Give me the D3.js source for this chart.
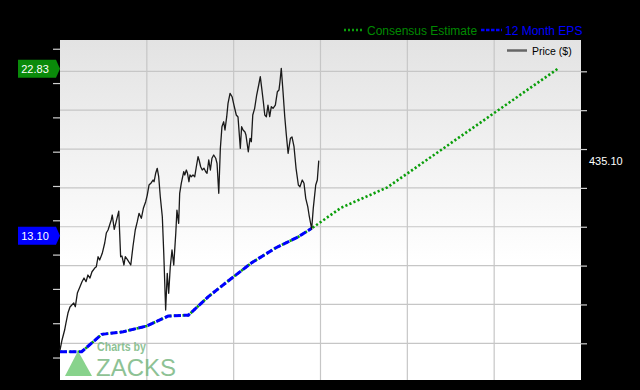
<!DOCTYPE html>
<html>
<head>
<meta charset="utf-8">
<script src="https://cdn.jsdelivr.net/npm/d3@7"></script>
<style>
  body { margin: 0; background: #000; }
  svg { display: block; font-family: "Liberation Sans", Arial, sans-serif; }
</style>
</head>
<body>
<script>
"use strict";

// x is months from the start of the chart, price in $
let priceSeries = [
  [0.0,191.4],[0.14,204.3],[0.32,217.1],[0.41,226.1],[0.55,239.0],[0.69,246.7],[0.95,251.9],[1.06,247.1],
  [1.20,264.7],[1.38,272.8],[1.52,279.3],[1.66,284.0],[1.80,279.3],[1.93,287.9],[2.07,284.0],[2.21,292.1],
  [2.40,296.9],[2.51,298.6],[2.63,311.4],[2.74,307.2],[2.92,315.8],[3.09,329.1],[3.20,341.9],[3.32,345.8],
  [3.43,352.2],[3.54,358.7],[3.61,365.1],[3.75,346.7],[4.06,370.2],[4.19,311.4],[4.28,312.3],[4.42,300.8],
  [4.51,311.4],[4.65,308.1],[4.89,300.8],[5.04,324.3],[5.20,345.8],[5.34,356.5],[5.46,367.3],[5.62,360.9],
  [5.76,373.7],[5.92,382.2],[6.03,390.8],[6.15,403.7],[6.31,406.7],[6.43,410.1],[6.50,407.9],[6.61,418.8],
  [6.72,425.2],[6.82,414.4],[6.93,388.6],[7.07,362.9],[7.17,315.8],[7.30,242.9],[7.41,290.1],[7.51,264.4],
  [7.62,298.6],[7.74,320.1],[7.86,300.8],[8.00,341.6],[8.08,371.5],[8.20,354.4],[8.27,393.0],[8.38,405.9],
  [8.55,420.8],[8.62,416.6],[8.73,423.0],[8.81,418.8],[8.91,407.9],[8.98,416.6],[9.07,414.4],[9.19,416.6],
  [9.31,414.4],[9.42,427.2],[9.54,440.1],[9.61,435.9],[9.72,427.2],[9.83,423.0],[9.95,425.2],[10.07,420.8],
  [10.16,418.8],[10.28,435.9],[10.39,423.0],[10.50,438.1],[10.62,442.3],[10.76,438.1],[10.85,431.6],[10.97,393.0],
  [11.08,450.9],[11.19,478.7],[11.31,485.1],[11.40,474.5],[11.52,491.6],[11.61,508.8],[11.75,521.7],[11.89,517.3],
  [12.02,506.6],[12.18,493.8],[12.30,491.2],[12.46,450.9],[12.55,478.7],[12.65,474.5],[12.78,472.0],[12.85,468.0],
  [13.01,446.5],[13.13,463.8],[13.22,459.4],[13.32,493.8],[13.45,502.4],[13.59,519.5],[13.73,532.4],[13.84,543.1],
  [13.94,528.1],[14.05,510.9],[14.15,493.8],[14.26,491.6],[14.37,506.6],[14.49,491.6],[14.60,504.5],[14.72,502.4],
  [14.88,506.6],[15.02,523.8],[15.13,525.9],[15.20,536.6],[15.29,553.9],[15.41,523.8],[15.53,491.6],[15.64,468.0],
  [15.76,444.5],[15.92,463.8],[16.03,465.5],[16.17,453.0],[16.31,425.2],[16.47,403.7],[16.58,401.5],[16.74,410.1],
  [16.86,405.9],[16.98,386.6],[17.12,375.8],[17.21,365.1],[17.39,347.1],[17.50,373.7],[17.67,403.7],[17.78,410.1],
  [17.88,435.1]
];

// trailing 12 month EPS
let epsSeries = [
  [0,6.34],[1.50,6.34],[2.88,7.35],[4.37,7.50],[5.99,7.84],[7.48,8.42],[8.87,8.47],
  [10.25,9.55],[11.86,10.62],[13.25,11.53],[14.86,12.37],[16.47,13.04],[17.39,13.53]
];

// consensus estimate going forward
let consensusSeries = [[17.39,13.53],[19.42,14.73],[22.62,15.92],[34.39,22.83]];

let monthTicks = [6, 12, 18, 24, 30];
let priceTicks = [200, 250, 300, 350, 400, 450, 500, 550];
let epsTicks = [6, 8, 10, 12, 14, 16, 18, 20, 22, 24];

let lastPrice = 435.10;
let currentEps = 13.10;
let consensusEnd = 22.83;

let width = 640;
let height = 390;
let plotLeft = 60, plotRight = 581, plotTop = 40, plotBottom = 380;

let svg = d3.select("body").append("svg").attr("width", width).attr("height", height);
svg.append("rect").attr("width", width).attr("height", height).attr("fill", "#000");

let x = d3.scaleLinear().domain([0, 36]).range([plotLeft, plotRight]);
let yPrice = d3.scaleLinear().domain([152.8, 590.3]).range([plotBottom, plotTop]);
let yEps = d3.scaleLinear().domain([4.69, 24.51]).range([plotBottom, plotTop]);

// plot background
let grad = svg.append("defs").append("linearGradient")
  .attr("id", "bg").attr("x1", 0).attr("y1", 0).attr("x2", 0).attr("y2", 1);
grad.append("stop").attr("offset", "0%").attr("stop-color", "#e3e3e3");
grad.append("stop").attr("offset", "65%").attr("stop-color", "#ffffff");
grad.append("stop").attr("offset", "100%").attr("stop-color", "#ffffff");

svg.append("rect")
  .attr("x", plotLeft).attr("y", plotTop)
  .attr("width", plotRight - plotLeft).attr("height", plotBottom - plotTop)
  .attr("fill", "url(#bg)");

// grid
let grid = svg.append("g");
grid.selectAll(".hgrid")
  .data(priceTicks)
  .enter()
  .append("line")
  .attr("x1", plotLeft).attr("x2", plotRight)
  .attr("y1", d => yPrice(d)).attr("y2", d => yPrice(d))
  .attr("stroke", "#c6c6c6").attr("stroke-width", 1.2);
grid.selectAll(".vgrid")
  .data(monthTicks)
  .enter()
  .append("line")
  .attr("x1", d => x(d)).attr("x2", d => x(d))
  .attr("y1", plotTop).attr("y2", plotBottom)
  .attr("stroke", "#c6c6c6").attr("stroke-width", 1.2);

// axes (ticks only)
let leftAxis = svg.append("g")
  .attr("transform", "translate(" + plotLeft + ",0)")
  .call(d3.axisLeft(yEps).tickValues(epsTicks).tickSize(7).tickFormat(""));
let rightAxis = svg.append("g")
  .attr("transform", "translate(" + plotRight + ",0)")
  .call(d3.axisRight(yPrice).tickValues(priceTicks).tickSize(6).tickFormat(""));
[leftAxis, rightAxis].forEach(a => {
  a.select(".domain").remove();
  a.selectAll(".tick line").attr("stroke", "#d0d0d0").attr("stroke-width", 1.2);
});

// lines
let epsLine = d3.line().x(d => x(d[0])).y(d => yEps(d[1]));
let priceLine = d3.line().x(d => x(d[0])).y(d => yPrice(d[1]));

svg.append("path")
  .datum(epsSeries.concat(consensusSeries.slice(1)))
  .attr("fill", "none")
  .attr("stroke", "#0a9e0a")
  .attr("stroke-width", 2.6)
  .attr("stroke-dasharray", "2.2,2.2")
  .attr("d", epsLine);

svg.append("path")
  .datum(epsSeries)
  .attr("fill", "none")
  .attr("stroke", "#0000ff")
  .attr("stroke-width", 3)
  .attr("stroke-dasharray", "7,2.5")
  .attr("d", epsLine);

svg.append("path")
  .datum(priceSeries)
  .attr("fill", "none")
  .attr("stroke", "#1a1a1a")
  .attr("stroke-width", 1.3)
  .attr("stroke-linejoin", "round")
  .attr("d", priceLine);

// zacks logo
let logo = svg.append("g").attr("opacity", 0.85);
logo.append("path")
  .attr("d", "M65,376 L78,351 L92,376 Z")
  .attr("fill", "#74cc78");
logo.append("text")
  .attr("x", 97).attr("y", 350.5)
  .attr("font-size", 12.5).attr("font-weight", "bold")
  .attr("textLength", 49).attr("lengthAdjust", "spacingAndGlyphs")
  .attr("fill", "#7ab883")
  .text("Charts by");
logo.append("text")
  .attr("x", 96).attr("y", 376)
  .attr("font-size", 24)
  .attr("fill", "#7ab883")
  .text("ZACKS");

// value flags on the left
function flag(value, color) {
  let cy = yEps(value);
  svg.append("path")
    .attr("d", "M18," + (cy - 9) + " H56 L60," + cy + " L56," + (cy + 9) + " H18 Z")
    .attr("fill", color);
  svg.append("text")
    .attr("x", 35).attr("y", cy + 4)
    .attr("text-anchor", "middle")
    .attr("font-size", 11)
    .attr("fill", "#fff")
    .text(value.toFixed(2));
}
flag(consensusEnd, "#0a8a0a");
flag(currentEps, "#0000ff");

svg.append("text")
  .attr("x", 589).attr("y", yPrice(lastPrice) + 4)
  .attr("font-size", 11)
  .attr("fill", "#fff")
  .text(lastPrice.toFixed(2));

// legend above the plot
let legend = svg.append("g");
legend.append("line")
  .attr("x1", 344).attr("x2", 363).attr("y1", 30).attr("y2", 30)
  .attr("stroke", "#0a9e0a").attr("stroke-width", 2.4).attr("stroke-dasharray", "2,2");
legend.append("text")
  .attr("x", 367).attr("y", 34.5)
  .attr("font-size", 12).attr("fill", "#008a00")
  .text("Consensus Estimate");
legend.append("line")
  .attr("x1", 481).attr("x2", 502).attr("y1", 30).attr("y2", 30)
  .attr("stroke", "#0000ff").attr("stroke-width", 2.4).attr("stroke-dasharray", "3.5,1.5");
legend.append("text")
  .attr("x", 505).attr("y", 34.5)
  .attr("font-size", 12).attr("fill", "#0000ff")
  .text("12 Month EPS");

// price legend inside the plot
legend.append("line")
  .attr("x1", 507).attr("x2", 527).attr("y1", 50.5).attr("y2", 50.5)
  .attr("stroke", "#666").attr("stroke-width", 2.5);
legend.append("text")
  .attr("x", 532).attr("y", 54.5)
  .attr("font-size", 10.5).attr("fill", "#000")
  .text("Price ($)");
</script>
</body>
</html>
